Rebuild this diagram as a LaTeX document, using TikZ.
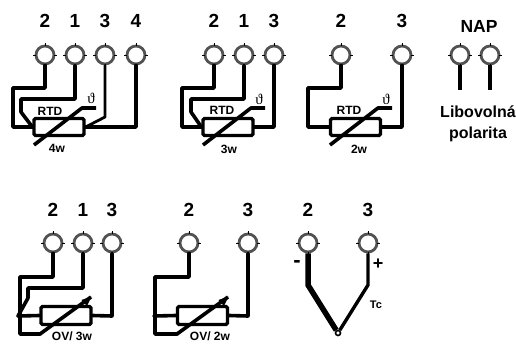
\documentclass[tikz,border=0pt]{standalone}
\usepackage{fontspec}
\setmainfont{Liberation Sans}
\newfontfamily\thetafont{Liberation Serif}
\begin{document}
\begin{tikzpicture}[x=1pt,y=-1pt,
  term/.style={circle,draw=black!68,line width=2.8pt,minimum size=18pt,inner sep=0pt},
  wire/.style={line width=3.6pt,line join=round,line cap=round,black},
  thinwire/.style={wire,line width=2.8pt},
  tickmark/.style={line width=0.5pt,black},
  res/.style={draw=black,line width=3.2pt,rounded corners=1.5pt,minimum width=50pt,minimum height=17pt,inner sep=0pt},
  num/.style={font=\fontsize{19}{19}\selectfont\bfseries,inner sep=0pt},
  big/.style={font=\fontsize{16}{16}\selectfont\bfseries,inner sep=0pt},
  lab/.style={font=\fontsize{12}{12}\selectfont\bfseries,inner sep=0pt},
  thetalab/.style={font=\fontsize{15}{15}\selectfont\thetafont,inner sep=0pt}]
\useasboundingbox (0,0) rectangle (516,343);
\newcommand{\term}[3]{%
  \node[term] (#1) at (#2,#3) {};
  \draw[tickmark] (#1.north)+(0,-1.5)--+(0,1.5);
  \draw[tickmark] (#1.south)+(0,-1.5)--+(0,1.5);
  \draw[tickmark] (#1.west)+(-1.5,0)--+(1.5,0);
  \draw[tickmark] (#1.east)+(-1.5,0)--+(1.5,0);}
% --- 4w
\foreach \n/\x/\t in {a2/45/2,a1/75/1,a3/105/3,a4/136/4}{\term{\n}{\x}{55}\node[num] (l\n) at (\x,21) {\t};}
\node[res] (ra) at (59,127) {};
\coordinate (aj1) at (ra.west); \coordinate (aj2) at (ra.east);
\draw[wire] (a2.south) -- (45,88) -- (13,88) -- (13,127) -- (aj1);
\draw[wire] (a1.south) -- (75,99) -- (21,99) -- (21,112) -- (aj1);
\draw[thinwire] (a3.south) -- (105,117) -- (aj2);
\draw[wire] (a4.south) -- (136,127) -- (aj2);
\coordinate (ad1) at (34,145); \coordinate (ad2) at (96,108);
\draw[wire,line cap=butt] (ad1) -- (82,108) -- (ad2);
\node[lab] (rtda) at (50,111) {RTD};
\node[lab] (wa) at (57,148) {4w};
\node[thetalab] (tha) at (91,98) {ϑ};
% --- 3w
\foreach \n/\x/\t in {b2/214/2,b1/244/1,b3/274/3}{\term{\n}{\x}{55}\node[num] (l\n) at (\x,21) {\t};}
\node[res] (rb) at (228,127) {};
\draw[wire] (b2.south) -- (214,88) -- (182,88) -- (182,127) -- (rb.west);
\draw[wire] (b1.south) -- (244,99) -- (191,99) -- (191,112) -- (rb.west);
\draw[wire] (b3.south) -- (274,127) -- (rb.east);
\coordinate (bd1) at (203,145); \coordinate (bd2) at (265,108);
\draw[wire,line cap=butt] (bd1) -- (251,108) -- (bd2);
\node[lab] (rtdb) at (222,110.5) {RTD};
\node[lab] (wb) at (229,149) {3w};
\node[thetalab] (thb) at (259,99) {ϑ};
% --- 2w
\foreach \n/\x/\t in {c2/341/2,c3/402/3}{\term{\n}{\x}{55}\node[num] (l\n) at (\x,21) {\t};}
\node[res] (rc) at (355.5,127) {};
\draw[wire] (c2.south) -- (341,88) -- (308,88) -- (308,127) -- (rc.west);
\draw[wire] (c3.south) -- (402,127) -- (rc.east);
\coordinate (cd1) at (330,145); \coordinate (cd2) at (392,108);
\draw[wire,line cap=butt] (cd1) -- (378,108) -- (cd2);
\node[lab] (rtdc) at (349,110.5) {RTD};
\node[lab] (wc) at (359,149) {2w};
\node[thetalab] (thc) at (386,99) {ϑ};
% --- NAP
\term{n1}{460}{55}\term{n2}{490}{55}
\coordinate (ne1) at (460,90); \coordinate (ne2) at (490,90);
\draw[wire,line cap=butt] (n1.south) -- (ne1);
\draw[wire,line cap=butt] (n2.south) -- (ne2);
\node[big,font=\fontsize{17.5}{17.5}\selectfont\bfseries] (nap) at (479,26) {NAP};
\node[big] (lib) at (478,112) {Libovolná};
\node[big] (pol) at (478,134) {polarita};
% --- OV 3w
\foreach \n/\x/\t in {d2/53/2,d1/83/1,d3/112/3}{\term{\n}{\x}{243}\node[num] (l\n) at (\x,210) {\t};}
\node[res,minimum height=18pt] (rd) at (66,315.5) {};
\coordinate (dj) at (18,316); \coordinate (dk) at (40,334);
\draw[wire] (d2.south) -- (53,277) -- (20,277) -- (20,334) -- (dk);
\draw[wire] (d1.south) -- (83,288) -- (28,288) -- (28,298) -- (dj) -- (rd.west);
\draw[wire] (d3.south) -- (112,316) -- (rd.east);
\coordinate (dh) at (91,297);
\draw[wire,line cap=butt] (dk) -- (dh);
\fill (dh)+(0.5,-0.5) -- +(-9.5,3) -- +(-4,9) -- cycle;
\node[lab] (wd) at (72,336.5) {OV/ 3w};
% --- OV 2w
\foreach \n/\x/\t in {e2/189/2,e3/248/3}{\term{\n}{\x}{243}\node[num] (l\n) at (\x,210) {\t};}
\node[res,minimum height=18pt] (re) at (202.5,315.5) {};
\coordinate (ej) at (154,316); \coordinate (ek) at (177,334);
\draw[wire] (e2.south) -- (189,277) -- (155,277) -- (155,334) -- (ek);
\draw[wire] (ej) -- (re.west);
\draw[wire] (e3.south) -- (248,316) -- (re.east);
\coordinate (eh) at (228,297);
\draw[wire,line cap=butt] (ek) -- (eh);
\fill (eh)+(0.5,-0.5) -- +(-9.5,3) -- +(-4,9) -- cycle;
\node[lab] (we) at (210,336.5) {OV/ 2w};
% --- Tc
\foreach \n/\x/\t in {f2/308/2,f3/368/3}{\term{\n}{\x}{243}\node[num] (l\n) at (\x,210) {\t};}
\node[circle,draw=black,line width=1.6pt,minimum size=5pt,inner sep=0pt] (j) at (338,333) {};
\draw[wire,line width=5.5pt,line cap=butt,line join=miter] (f2.south) -- (308,285) -- (j);
\draw[wire,line width=3.4pt,line cap=butt,line join=miter] (f3.south) -- (368,285) -- (j);
\node[big,font=\fontsize{22}{22}\selectfont\bfseries] (minus) at (297,264) {-};
\node[big,font=\fontsize{18}{18}\selectfont\bfseries] (plus) at (378,264) {+};
\node[lab,font=\fontsize{11}{11}\selectfont\bfseries] (tc) at (376,305) {Tc};
\end{tikzpicture}
\end{document}
